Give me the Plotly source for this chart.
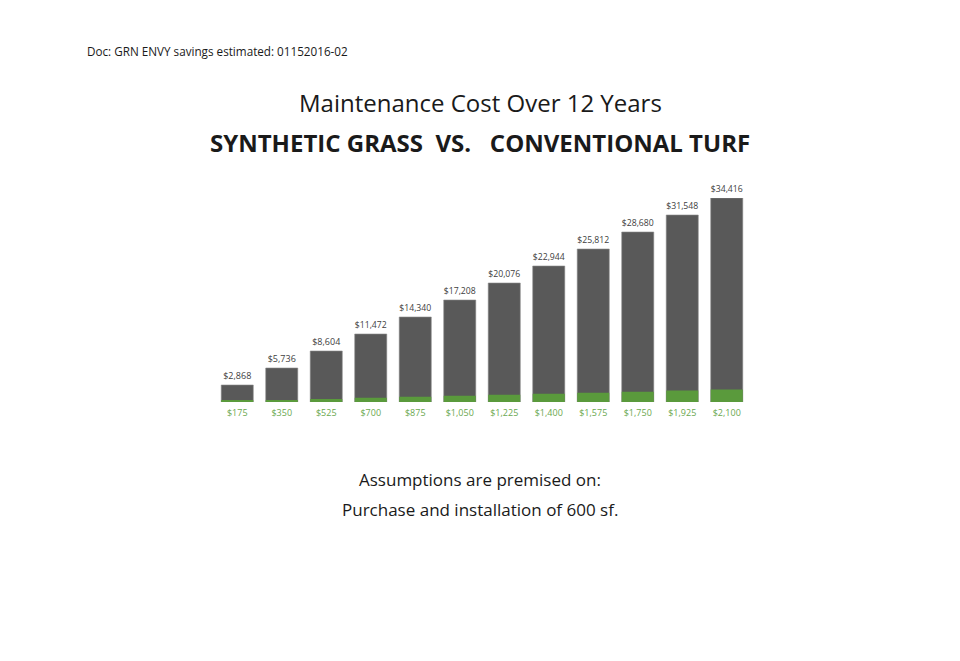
import plotly.graph_objects as go

years = ["1", "2", "3", "4", "5", "6", "7", "8", "9", "10", "11", "12"]
turf_cost = [2868, 5736, 8604, 11472, 14340, 17208, 20076, 22944, 25812, 28680, 31548, 34416]
synthetic_cost = [175, 350, 525, 700, 875, 1050, 1225, 1400, 1575, 1750, 1925, 2100]

turf_labels = [f"${v:,}" for v in turf_cost]
synthetic_labels = [f"${v:,}" for v in synthetic_cost]

# page body adds ~8px offset, so margins are shifted to compensate
L, R, T, B = 207, 219, 190, 267
W, H = 960, 661

fig = go.Figure()
fig.add_trace(go.Bar(
    x=years, y=turf_cost, name="Conventional turf",
    marker=dict(color="#595959", line=dict(color="#8a8a8a", width=0.6)),
    text=turf_labels, textposition="outside", cliponaxis=False,
    textfont=dict(family="Open Sans", size=9, color="#404040"),
))
fig.add_trace(go.Bar(
    x=years, y=synthetic_cost, name="Synthetic grass",
    marker=dict(color="#5a9a3c", line=dict(width=0)),
))

fig.update_layout(
    width=W, height=H,
    barmode="overlay", bargap=0.28,
    showlegend=False,
    plot_bgcolor="white", paper_bgcolor="white",
    margin=dict(l=L, r=R, t=T, b=B),
    font=dict(family="Open Sans", color="#222"),
)
fig.update_xaxes(
    tickvals=years, ticktext=synthetic_labels,
    tickfont=dict(family="Open Sans", size=9, color="#6aa84f"),
    showline=False, showgrid=False, ticks="", ticklen=0,
    ticklabelstandoff=4,
)
fig.update_yaxes(range=[0, 34416], visible=False)

notes = [
    dict(text="Doc: GRN ENVY savings estimated: 01152016-02", x=77, y=43, size=11.7, xanchor="left"),
    dict(text="Maintenance Cost Over 12 Years", x=472, y=95, size=24, xanchor="center"),
    dict(text="<b>SYNTHETIC GRASS  VS.   CONVENTIONAL TURF</b>", x=472, y=134, size=24, xanchor="center"),
    dict(text="Assumptions are premised on:", x=472, y=471, size=17, xanchor="center"),
    dict(text="Purchase and installation of 600 sf.", x=472, y=501, size=17, xanchor="center"),
]
for n in notes:
    fig.add_annotation(
        text=n["text"], xref="paper", yref="paper",
        x=(n["x"] - L) / (W - L - R), y=1 - (n["y"] - T) / (H - T - B),
        xanchor=n["xanchor"], yanchor="middle", showarrow=False,
        font=dict(family="Open Sans", size=n["size"], color="#1a1a1a"),
    )

fig.write_html("out.html")
